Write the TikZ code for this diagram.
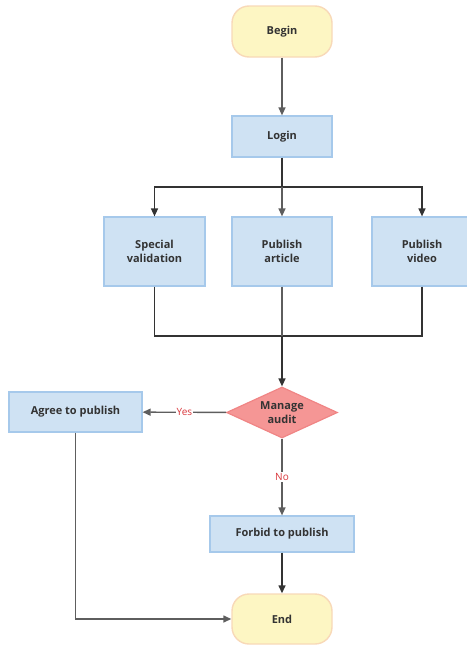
\documentclass[tikz,border=0pt]{standalone}
\usepackage{fontspec}
\setmainfont{Open Sans}
\usetikzlibrary{shapes.geometric,arrows.meta}
\definecolor{termfill}{HTML}{FDF6C3}
\definecolor{termdraw}{HTML}{F8D9B8}
\definecolor{procfill}{HTML}{CFE2F3}
\definecolor{procdraw}{HTML}{A6C9EB}
\definecolor{decfill}{HTML}{F59695}
\definecolor{decdraw}{HTML}{F08585}
\definecolor{txt}{HTML}{333333}
\definecolor{darkline}{HTML}{333333}
\definecolor{greyline}{HTML}{5E5E5E}
\definecolor{labred}{HTML}{D9363B}
\begin{document}
\begin{tikzpicture}[x=1pt,y=-1pt,
  txtstyle/.style={font=\fontsize{11}{13.5}\selectfont\bfseries, text=txt, align=center},
  terminal/.style={txtstyle, draw=termdraw, fill=termfill, line width=1.4pt,
    rounded corners=17pt, minimum width=100pt, minimum height=51pt, inner sep=0pt},
  process/.style={txtstyle, draw=procdraw, fill=procfill, line width=1.2pt,
    minimum width=100pt, minimum height=69pt, inner sep=0pt},
  decision/.style={diamond, draw=decdraw, fill=decfill, line width=1.2pt,
    minimum width=111pt, minimum height=51pt, inner sep=0pt},
  link/.style={line width=1.4pt},
  arrow/.style={link, -{Triangle[length=8pt,width=7pt]}},
  answer/.style={font=\fontsize{10}{12}\selectfont, text=labred, fill=white, inner sep=1pt}
]
\useasboundingbox (0,0) rectangle (466,645);

% nodes
\node[terminal] (begin) at (282,31.5) {Begin};
\node[process, minimum height=41pt] (login) at (282,136.5) {Login};
\node[process, minimum width=101pt] (spec) at (154.5,251.5) {Special\\validation};
\node[process] (article) at (282,251.5) {Publish\\article};
\node[process] (video) at (422,251.5) {Publish\\video};
\node[decision, label={[txtstyle]center:Manage\\audit}] (audit) at (282,412.5) {};
\node[process, minimum width=133pt, minimum height=40pt] (agree) at (75.5,412) {Agree to publish};
\node[process, minimum width=144pt, minimum height=36pt] (forbid) at (282,534) {Forbid to publish};
\node[terminal, minimum height=50pt] (end) at (282,619) {End};

% junction points of the branches
\coordinate (split) at (282,187);
\coordinate (merge) at (282,336);

% connectors
\draw[arrow, greyline] (begin) -- (login);
\draw[link, darkline] (login) -- (split);
\draw[arrow, darkline] (split) -| (spec);
\draw[arrow, darkline] (split) -| (video);
\draw[arrow, greyline] (split) -- (article);
\draw[link, darkline] (spec) |- (merge);
\draw[link, darkline] (video) |- (merge);
\draw[link, greyline] (article) -- (merge);
\draw[arrow, darkline] (merge) -- (audit);
\draw[arrow, greyline] (audit) -- node[answer] {Yes} (agree);
\draw[arrow, greyline] (audit) -- node[answer] {No} (forbid);
\draw[arrow, darkline] (forbid) -- (end);
\draw[arrow, greyline] (agree) |- (end);
\end{tikzpicture}
\end{document}
